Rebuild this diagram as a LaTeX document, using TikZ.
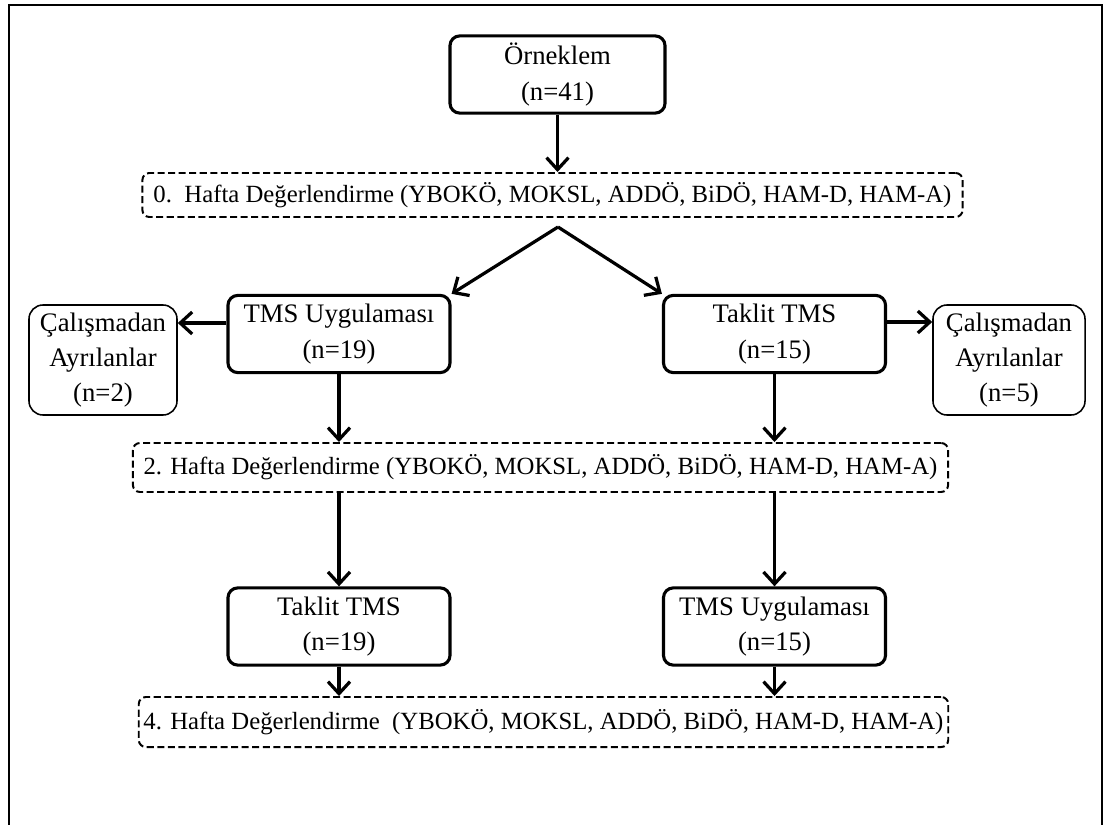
\documentclass[tikz,border=0pt]{standalone}
\usepackage{fontspec}
\setmainfont{Liberation Serif}
\usetikzlibrary{arrows.meta, positioning}
\tikzset{
	stage/.style={rectangle, rounded corners=7pt, draw=black, line width=2.2pt, align=center, minimum width=5.55cm, minimum height=1.93cm, font=\fontsize{19}{25}\selectfont},
	dropout/.style={rectangle, rounded corners=10pt, draw=black, line width=1.1pt, align=center, minimum height=2.75cm, font=\fontsize{19}{25}\selectfont},
	assess/.style={rectangle, rounded corners=5pt, draw=black, line width=1.4pt, dash pattern=on 5pt off 2.5pt, align=center, font=\fontsize{17.6}{22}\selectfont},
	arrow/.style={-{Straight Barb[length=3mm, width=5.5mm]}, line width=2.3pt},
}

\begin{document}
\begin{tikzpicture}[x=0.025cm, y=-0.025cm]
		\clip (0,0) rectangle (1106,824);
		\draw[line width=2.1pt] (9,5) rectangle (1102,860);
		% baseline
		\node[stage, minimum width=5.375cm] (s) at (557.5,74.5) {Örneklem\\(n=41)};
		\node[assess, minimum width=20.5cm, minimum height=1.1cm] (w0) at (552.5,195) {0.\ \ Hafta Değerlendirme (YBOKÖ, MOKSL, ADDÖ, BiDÖ, HAM-D, HAM-A)};
		\coordinate (split) at (558,227);
		% first period
		\node[stage] (t1) at (339,334) {TMS Uygulaması\\(n=19)};
		\node[stage] (p1) at (774.5,334) {Taklit TMS\\(n=15)};
		\node[dropout, minimum width=3.7cm] (dl) at (103,360) {Çalışmadan\\Ayrılanlar\\(n=2)};
		\node[dropout, minimum width=3.8cm] (dr) at (1009,360) {Çalışmadan\\Ayrılanlar\\(n=5)};
		\node[assess, minimum width=20.375cm, minimum height=1.225cm] (w2) at (540.5,467.5) {2. Hafta Değerlendirme (YBOKÖ, MOKSL, ADDÖ, BiDÖ, HAM-D, HAM-A)};
		% crossover
		\node[stage] (p2) at (339,626.5) {Taklit TMS\\(n=19)};
		\node[stage] (t2) at (774.5,626.5) {TMS Uygulaması\\(n=15)};
		\node[assess, minimum width=20.075cm, minimum height=1.25cm] (w4) at (543.5,722) {4. Hafta Değerlendirme\ \ (YBOKÖ, MOKSL, ADDÖ, BiDÖ, HAM-D, HAM-A)};
		\draw[arrow] (s.south) -- (s.south |- w0.north);
		\draw[arrow] (split) -- (t1.north east);
		\draw[arrow] (split) -- (p1.north west);
		\draw[arrow] ([yshift=2.75mm]t1.west) -- ([yshift=2.75mm]t1.west -| dl.east);
		\draw[arrow] ([yshift=3mm]p1.east) -- ([yshift=3mm]p1.east -| dr.west);
		\draw[arrow] (t1.south) -- (t1.south |- w2.north);
		\draw[arrow] (p1.south) -- (p1.south |- w2.north);
		\draw[arrow] (w2.south -| p2.north) -- (p2.north);
		\draw[arrow] (w2.south -| t2.north) -- (t2.north);
		\draw[arrow] (p2.south) -- (p2.south |- w4.north);
		\draw[arrow] (t2.south) -- (t2.south |- w4.north);
	\end{tikzpicture}
\end{document}
